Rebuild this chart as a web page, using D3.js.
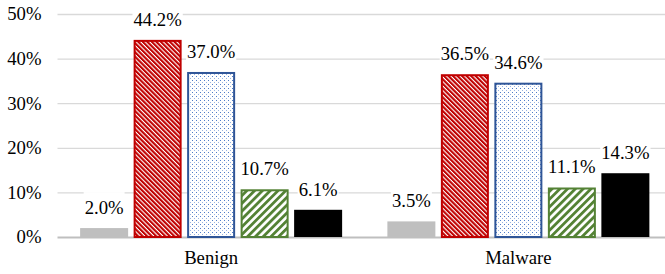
<!DOCTYPE html>
<html>
<head>
<meta charset="utf-8">
<script src="https://cdn.jsdelivr.net/npm/d3@7"></script>
</head>
<body style="margin:0;background:#fff">
<figure id="chart" style="margin:0"></figure>
<script>
// data
var categories = [ "Benign", "Malware" ];
var seriesNames = [ "s1", "s2", "s3", "s4", "s5" ];
var benignValues = [ 0.020, 0.442, 0.370, 0.107, 0.061 ];
var malwareValues = [ 0.035, 0.365, 0.346, 0.111, 0.143 ];
var yTicks = [ 0, 0.1, 0.2, 0.3, 0.4, 0.5 ];

var dimensions = {
	width: 665,
	height: 274,
	plotLeft: 57.5,
	plotRight: 672,
	top: 14,
	bottom: 237
};

var fontSize = 18.7;
var serif = "'Liberation Serif'";

var svg = d3.select( "figure#chart" )
	.append( "svg" )
	.attr( "width", dimensions.width )
	.attr( "height", dimensions.height )
	.style( "display", "block" );

// fills: patterns like the excel ones
var defs = svg.append( "defs" );

var redPat = defs.append( "pattern" )
	.attr( "id", "redHatch" )
	.attr( "patternUnits", "userSpaceOnUse" )
	.attr( "width", 3.2 ).attr( "height", 3.2 )
	.attr( "patternTransform", "rotate(-45)" );
redPat.append( "rect" ).attr( "width", 3.2 ).attr( "height", 3.2 ).attr( "fill", "#fff" );
redPat.append( "rect" ).attr( "width", 2.1 ).attr( "height", 3.2 ).attr( "fill", "#C00000" );

var bluePat = defs.append( "pattern" )
	.attr( "id", "blueDots" )
	.attr( "patternUnits", "userSpaceOnUse" )
	.attr( "width", 4 ).attr( "height", 4 );
bluePat.append( "rect" ).attr( "width", 4 ).attr( "height", 4 ).attr( "fill", "#fff" );
bluePat.append( "rect" ).attr( "x", 0 ).attr( "y", 0 ).attr( "width", 1 ).attr( "height", 1 ).attr( "fill", "#4F7BC8" );
bluePat.append( "rect" ).attr( "x", 2 ).attr( "y", 2 ).attr( "width", 1 ).attr( "height", 1 ).attr( "fill", "#9AB3E0" );

var greenPat = defs.append( "pattern" )
	.attr( "id", "greenStripes" )
	.attr( "patternUnits", "userSpaceOnUse" )
	.attr( "width", 5.5 ).attr( "height", 5.5 )
	.attr( "patternTransform", "rotate(45)" );
greenPat.append( "rect" ).attr( "width", 5.5 ).attr( "height", 5.5 ).attr( "fill", "#fff" );
greenPat.append( "rect" ).attr( "width", 2.8 ).attr( "height", 5.5 ).attr( "fill", "#548235" );

var fills = [ "#BFBFBF", "url(#redHatch)", "url(#blueDots)", "url(#greenStripes)", "#000000" ];
var strokes = [ "none", "#C00000", "#2F5597", "#548235", "none" ];

// scales
var xScale = d3.scaleBand()
	.domain( categories )
	.range( [ dimensions.plotLeft, dimensions.plotRight ] );

var groupWidth = 262;
var innerScale = d3.scaleBand()
	.domain( seriesNames )
	.range( [ 0, groupWidth ] )
	.paddingInner( 0.1028 );

var yScale = d3.scaleLinear()
	.domain( [ 0, 0.5 ] )
	.range( [ dimensions.bottom, dimensions.top ] );

// gridlines
var yAxis = svg.append( "g" )
	.attr( "transform", `translate(${dimensions.plotLeft},0)` )
	.call( d3.axisLeft( yScale )
		.tickValues( yTicks )
		.tickFormat( d3.format( ".0%" ) )
		.tickSize( -( dimensions.width - dimensions.plotLeft ) )
		.tickPadding( 16 ) )
	.call( g => g.select( ".domain" ).remove() );

yAxis.selectAll( "line" )
	.attr( "stroke-width", d => d === 0 ? 2 : 1.3 )
	.attr( "stroke", d => d === 0 ? "#BFBFBF" : "#D9D9D9" );

yAxis.selectAll( "text" )
	.style( "font-family", serif )
	.style( "font-size", fontSize + "px" )
	.attr( "fill", "#000" );

// rows for each category
var rows = categories.map( ( c, i ) => ( {
	category: c,
	values: i === 0 ? benignValues : malwareValues
} ) );

var flat = [];
rows.forEach( r => {
	r.values.forEach( ( v, j ) => {
		flat.push( { category: r.category, series: seriesNames[ j ], idx: j, value: v } );
	} );
} );

function barX( d ) {
	var center = xScale( d.category ) + xScale.bandwidth() / 2;
	return center - groupWidth / 2 + innerScale( d.series );
}

// labels go first (white boxes cut the gridlines), bars on top
var labelG = svg.append( "g" );

var labels = labelG.selectAll( "g" )
	.data( flat )
	.enter()
	.append( "g" );

labels.append( "text" )
	.attr( "x", d => barX( d ) + innerScale.bandwidth() / 2 )
	.attr( "y", d => yScale( d.value ) - 14 )
	.attr( "text-anchor", "middle" )
	.attr( "fill", "#000" )
	.style( "font-family", serif )
	.style( "font-size", fontSize + "px" )
	.text( d => d3.format( ".1%" )( d.value ) );

labels.each( function() {
	var t = d3.select( this ).select( "text" );
	var bb = t.node().getBBox();
	var baseline = +t.attr( "y" );
	d3.select( this ).insert( "rect", "text" )
		.attr( "x", bb.x - 1 )
		.attr( "y", baseline - 22 )
		.attr( "width", bb.width + 2 )
		.attr( "height", 26 )
		.attr( "fill", "#fff" );
} );

var bars = svg.append( "g" ).selectAll( "rect" )
	.data( flat )
	.enter()
	.append( "rect" )
	.attr( "x", d => barX( d ) + ( strokes[ d.idx ] === "none" ? 0 : 1 ) )
	.attr( "width", d => innerScale.bandwidth() - ( strokes[ d.idx ] === "none" ? 0 : 2 ) )
	.attr( "y", d => yScale( d.value ) + ( strokes[ d.idx ] === "none" ? 0 : 1 ) )
	.attr( "height", d => yScale( 0 ) - yScale( d.value ) - ( strokes[ d.idx ] === "none" ? 0 : 1 ) )
	.attr( "fill", d => fills[ d.idx ] )
	.attr( "stroke", d => strokes[ d.idx ] )
	.attr( "stroke-width", 2 );

// category labels
var xAxis = svg.append( "g" )
	.attr( "transform", `translate(0,${dimensions.bottom})` )
	.call( d3.axisBottom( xScale ).tickSize( 0 ).tickPadding( 14 ) )
	.call( g => g.select( ".domain" ).remove() );

xAxis.selectAll( "text" )
	.style( "font-family", serif )
	.style( "font-size", fontSize + "px" )
	.attr( "fill", "#000" );
</script>
</body>
</html>
